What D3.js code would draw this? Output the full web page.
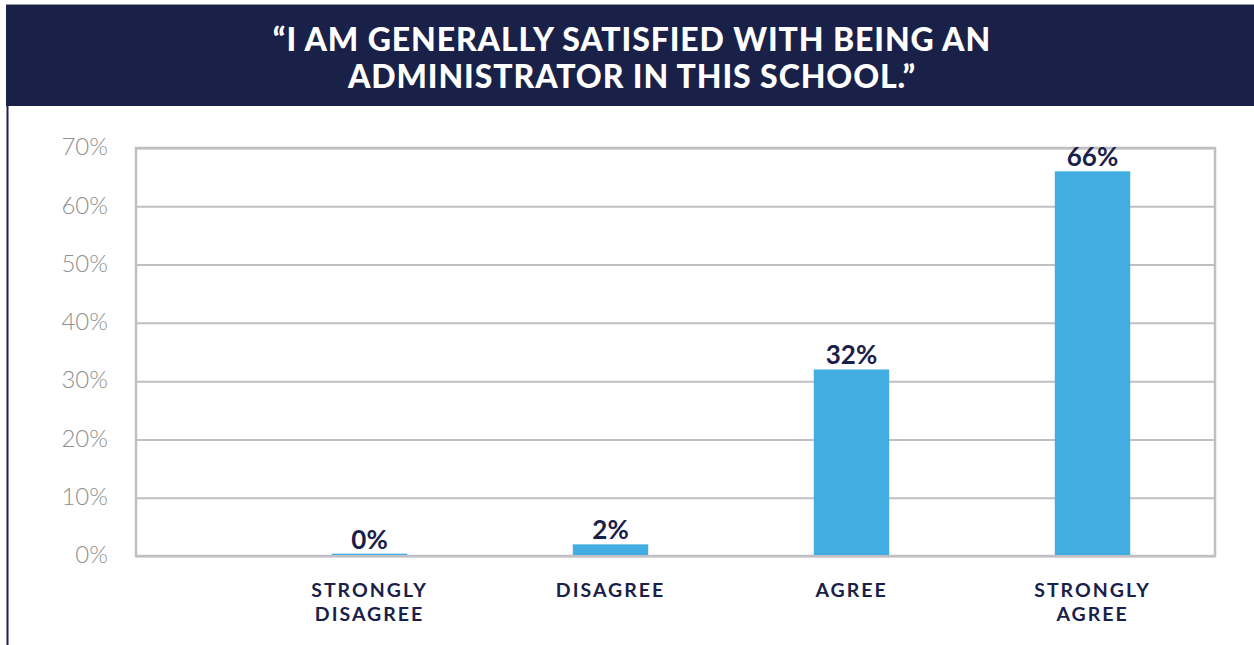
<!DOCTYPE html>
<html>
<head>
<meta charset="utf-8">
<script src="https://cdn.jsdelivr.net/npm/d3@7"></script>
<style>
  html, body { margin: 0; padding: 0; background: #ffffff; }
  svg { display: block; }
</style>
</head>
<body>
<svg id="chart" width="1254" height="645"></svg>
<script>
// Survey responses
const categories = [["STRONGLY", "DISAGREE"], ["DISAGREE"], ["AGREE"], ["STRONGLY", "AGREE"]];
const values = [0.4, 2, 32, 66];
const yTicks = [0, 10, 20, 30, 40, 50, 60, 70];
const titleLines = ["\u201CI AM GENERALLY SATISFIED WITH BEING AN", "ADMINISTRATOR IN THIS SCHOOL.\u201D"];

const navy = "#1a2149";
const barColor = "#42ade0";
const gridColor = "#c0c0c4";

const svg = d3.select("#chart");

// Header banner
svg.append("rect").attr("x", 6).attr("y", 4).attr("width", 1248).attr("height", 1.5).attr("fill", "#9a9aa6");
svg.append("rect").attr("x", 6).attr("y", 5).attr("width", 1248).attr("height", 101).attr("fill", navy);
// left page rule
svg.append("rect").attr("x", 6.5).attr("y", 105).attr("width", 2).attr("height", 540).attr("fill", navy);

svg.append("g")
  .selectAll("text")
  .data(titleLines)
  .join("text")
  .attr("x", 632)
  .attr("y", (d, i) => 51 + i * 37)
  .attr("text-anchor", "middle")
  .attr("fill", "#ffffff")
  .style("font-family", "Lato, 'Open Sans', sans-serif")
  .style("font-weight", 900)
  .style("font-size", "32px")
  .style("letter-spacing", "0.9px")
  .text(d => d);

// Plot area
const plotL = 136, plotR = 1215, plotT = 148, plotB = 556;

const x = d3.scaleBand()
  .domain(categories.map(d => d.join(" ")))
  .range([249, 1213])
  .paddingInner(0.687)
  .paddingOuter(0.3435);

const y = d3.scaleLinear().domain([0, 70]).range([plotB, plotT]);

// Gridlines
svg.append("g")
  .attr("transform", `translate(${plotL},0)`)
  .call(d3.axisLeft(y).tickValues(yTicks).tickSize(-(plotR - plotL)).tickFormat(""))
  .call(g => g.select(".domain").remove())
  .call(g => g.selectAll("line").attr("stroke", gridColor).attr("stroke-width", 2));

// Frame
svg.append("rect")
  .attr("x", plotL).attr("y", plotT)
  .attr("width", plotR - plotL).attr("height", plotB - plotT)
  .attr("fill", "none").attr("stroke", gridColor).attr("stroke-width", 2.5);

// Y tick labels
svg.append("g")
  .attr("transform", `translate(${plotL},0)`)
  .call(d3.axisLeft(y).tickValues(yTicks).tickSize(0).tickPadding(28).tickFormat(d => d + "%"))
  .call(g => g.select(".domain").remove())
  .call(g => g.selectAll("text")
    .attr("fill", "#8f8f8f")
    .attr("dy", "0.28em")
    .style("font-family", "Lato, 'Open Sans', sans-serif")
    .style("font-weight", 300)
    .style("font-size", "24px"));

// Bars
svg.append("g")
  .selectAll("rect")
  .data(values)
  .join("rect")
  .attr("x", (d, i) => x(categories[i].join(" ")))
  .attr("width", x.bandwidth())
  .attr("y", d => y(d))
  .attr("height", d => y(0) - y(d) - 1)
  .attr("fill", barColor);

// Value labels
svg.append("g")
  .selectAll("text")
  .data(values)
  .join("text")
  .attr("x", (d, i) => x(categories[i].join(" ")) + x.bandwidth() / 2)
  .attr("y", d => y(d) - 5)
  .attr("text-anchor", "middle")
  .attr("fill", navy)
  .style("font-family", "Lato, 'Open Sans', sans-serif")
  .style("font-weight", 700)
  .style("font-size", "26px")
  .text(d => Math.round(d) + "%");

// Category labels
const catG = svg.append("g")
  .selectAll("text")
  .data(categories)
  .join("text")
  .attr("x", d => x(d.join(" ")) + x.bandwidth() / 2)
  .attr("y", 597)
  .attr("text-anchor", "middle")
  .attr("fill", navy)
  .style("font-family", "Lato, 'Open Sans', sans-serif")
  .style("font-weight", 700)
  .style("font-size", "19.5px")
  .style("letter-spacing", "2px");

catG.selectAll("tspan")
  .data(d => d)
  .join("tspan")
  .attr("x", function () { return d3.select(this.parentNode).attr("x"); })
  .attr("dy", (d, i) => i === 0 ? 0 : 24)
  .text(d => d);
</script>
</body>
</html>
